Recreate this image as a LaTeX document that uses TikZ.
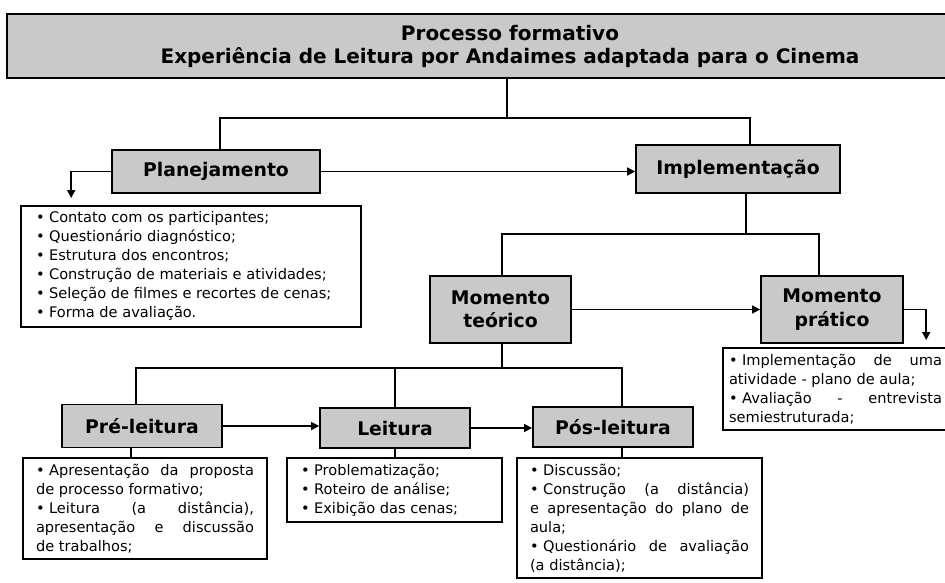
\documentclass[tikz,border=0pt]{standalone}
\usepackage{fontspec}
\setmainfont{DejaVu Sans}
\usetikzlibrary{arrows.meta}
\newcommand{\stagecolor}{black!21!white}
\newcommand{\titlefont}{\fontsize{20}{23}\selectfont\bfseries}
\newcommand{\stagefont}{\fontsize{18.8}{23.5}\selectfont\bfseries}
\newcommand{\listfont}{\fontsize{14.6}{19}\selectfont\hyphenpenalty=10000\exhyphenpenalty=10000}
\newcommand{\itm}{\textbullet\hspace{4.5pt}}

\begin{document}
\begin{tikzpicture}[x=1pt, y=-1pt, >={Triangle[length=8pt, width=8pt]},
    stage/.style={draw, line width=1.8pt, fill=\stagecolor, font=\stagefont, align=center, inner sep=0pt},
    listbox/.style={draw, line width=1.6pt, fill=white, font=\listfont, align=justify, anchor=north, inner ysep=6pt},
    link/.style={line width=1.6pt}]
        \useasboundingbox (0, 0) rectangle (945, 582);

        % stages
        \node[stage, font=\titlefont, minimum width=1006, minimum height=64] (topo) at (510, 46) {Processo formativo\\Experiência de Leitura por Andaimes adaptada para o Cinema};
        \node[stage, minimum width=208, minimum height=43] (plan) at (216, 171.5) {Planejamento};
        \node[stage, minimum width=204, minimum height=48] (impl) at (738, 169) {Implementação};
        \node[stage, minimum width=141, minimum height=67] (teo) at (500.5, 309.5) {Momento\\teórico};
        \node[stage, minimum width=142, minimum height=67] (pra) at (832, 309.5) {Momento\\prático};
        \node[stage, minimum width=160, minimum height=43] (pre) at (142, 426) {Pré-leitura};
        \node[stage, minimum width=150, minimum height=40] (lei) at (395, 428) {Leitura};
        \node[stage, minimum width=160, minimum height=40] (pos) at (613, 427) {Pós-leitura};

        % lists
        \node[listbox, text width=310, inner xsep=15] (planlist) at (191, 205) {%
            \itm Contato com os participantes;\par
            \itm Questionário diagnóstico;\par
            \itm Estrutura dos encontros;\par
            \itm Construção de materiais e atividades;\par
            \itm Seleção de filmes e recortes de cenas;\par
            \itm Forma de avaliação.};
        \node[listbox, text width=213, inner xsep=6] (pralist) at (835.5, 347) {%
            \itm Implementação de uma\linebreak atividade - plano de aula;\par
            \itm Avaliação - entrevista\linebreak semiestruturada;\par\vspace{3pt}};
        \node[listbox, text width=218, inner xsep=13] (prelist) at (145, 457) {%
            \itm Apresentação da proposta\linebreak de processo formativo;\par
            \itm Leitura (a distância),\linebreak apresentação e discussão\linebreak de trabalhos;\par\vspace{2pt}};
        \node[listbox, text width=187, inner xsep=14] (leilist) at (394.5, 457) {%
            \itm Problematização;\par
            \itm Roteiro de análise;\par
            \itm Exibição das cenas;};
        \node[listbox, text width=219, inner xsep=13] (poslist) at (639.5, 457) {%
            \itm Discussão;\par
            \itm Construção (a distância)\linebreak e apresentação do plano de\linebreak aula;\par
            \itm Questionário de avaliação\linebreak (a distância);\par\vspace{20pt}};

        % draw branch lines
        \coordinate (split1) at (507, 118);
        \coordinate (split2) at (746, 234);
        \coordinate (split3) at (502, 368);
        \draw[link] (topo.south -| split1) -- (split1);
        \draw[link] ([xshift=4pt]plan.north) |- (split1) -| ([xshift=12pt]impl.north);
        \draw[link] (impl.south -| split2) -- (split2);
        \draw[link] ([xshift=1.5pt]teo.north) |- (split2) -| ([xshift=-13pt]pra.north);
        \draw[link] (teo.south -| split3) -- (split3);
        \draw[link] ([xshift=-6pt]pre.north) |- (split3) -| ([xshift=9pt]pos.north);
        \draw[link] (lei.north) -- (lei.north |- split3);

        % draw arrows
        \draw[link, ->] (plan.east) -- (plan.east -| impl.west);
        \draw[link, ->, shorten >=7pt] (plan.west) -| ([xshift=51pt]planlist.north west);
        \draw[link, ->] (teo.east) -- (teo.east -| pra.west);
        \draw[link, ->, shorten >=7pt] (pra.east) -| ([xshift=204pt]pralist.north west);
        \draw[link, ->] (pre.east) -- (pre.east -| lei.west);
        \draw[link, ->] (lei.east) -- (lei.east -| pos.west);

        % stage to list
        \draw[link] ([xshift=-11pt]pre.south) -- ([xshift=-11pt]pre.south |- prelist.north);
        \draw[link] (lei.south) -- (lei.south |- leilist.north);
        \draw[link] ([xshift=9pt]pos.south) -- ([xshift=9pt]pos.south |- poslist.north);
    \end{tikzpicture}
\end{document}
